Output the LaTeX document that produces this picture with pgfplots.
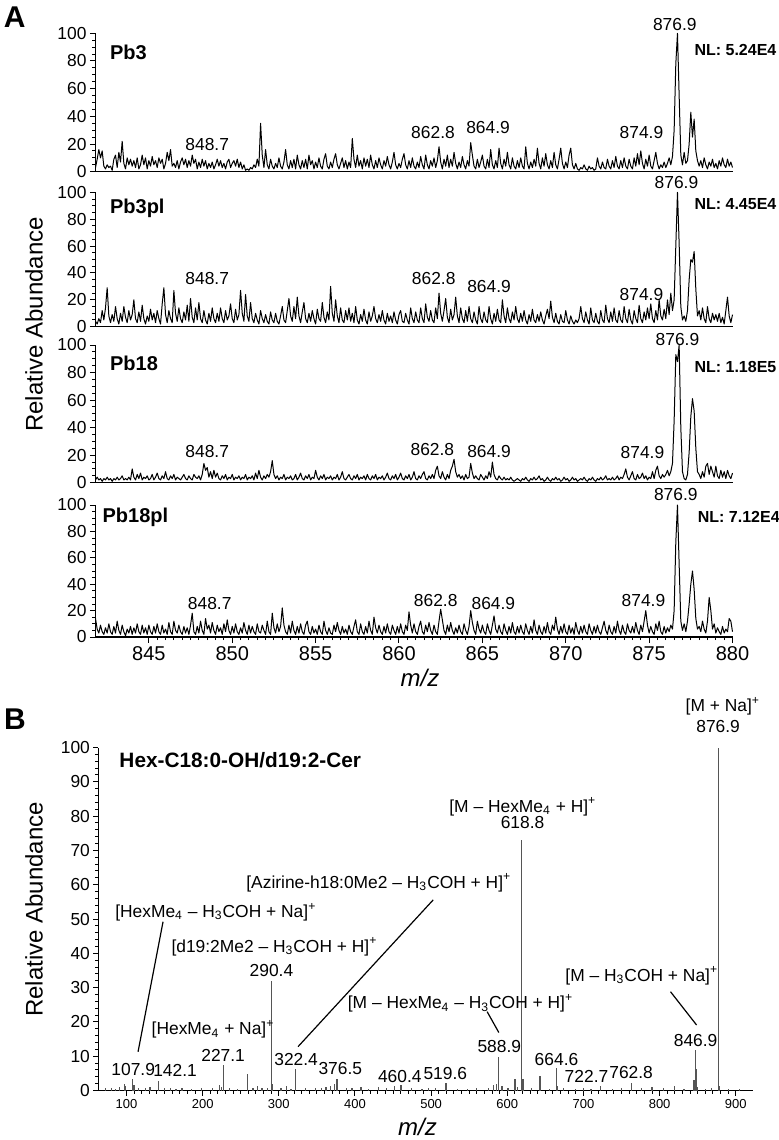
\documentclass[border=0pt]{standalone}
\usepackage{fontspec}
\setmainfont{Liberation Sans}
\usepackage{pgfplots}
\usepackage{pgfplotstable}
\pgfplotsset{compat=1.18}
\newcommand\fs[1]{\fontsize{#1}{#1}\selectfont}
\definecolor{stick}{RGB}{85,85,85}

\pgfplotstableread{
x a b c d
841.8 3 4 2 14
841.9 9 2 4 6
842.0 16 6 2 3
842.1 10 3 3 9
842.2 15 12 1 4
842.3 4 5 3 2
842.4 2 14 2 7
842.5 5 29 4 3
842.6 3 8 2 10
842.7 4 3 3 4
842.8 1 9 1 2
842.9 9 4 3 8
843.0 12 15 2 3
843.1 3 6 4 12
843.2 14 2 2 5
843.3 7 10 3 2
843.4 22 4 5 9
843.5 6 15 2 4
843.6 2 7 3 1
843.7 10 3 2 6
843.8 5 12 4 3
843.9 9 5 2 8
844.0 4 9 10 2
844.1 8 20 4 7
844.2 3 6 2 3
844.3 10 3 6 10
844.4 2 11 3 4
844.5 5 4 7 2
844.6 12 16 2 9
844.7 5 6 4 3
844.8 10 2 3 7
844.9 2 8 5 2
845.0 8 4 2 9
845.1 4 13 3 4
845.2 11 5 6 2
845.3 5 10 2 8
845.4 8 3 4 3
845.5 3 12 7 10
845.6 10 6 3 4
845.7 6 2 2 2
845.8 9 17 5 9
845.9 2 29 3 3
846.0 6 9 8 6
846.1 14 3 3 2
846.2 8 12 2 11
846.3 16 6 5 4
846.4 4 3 3 2
846.5 6 27 6 12
846.6 3 10 2 5
846.7 8 4 4 3
846.8 2 14 3 9
846.9 7 6 2 4
847.0 10 3 4 2
847.1 5 11 6 8
847.2 9 5 3 3
847.3 3 16 2 7
847.4 8 4 5 2
847.5 4 21 3 9
847.6 12 7 2 18
847.7 6 3 6 4
847.8 9 14 4 2
847.9 2 5 3 8
848.0 7 18 5 3
848.1 3 6 2 12
848.2 9 3 6 5
848.3 4 12 14 2
848.4 8 5 9 14
848.5 2 2 11 6
848.6 6 10 4 9
848.7 3 4 8 3
848.8 7 14 3 11
848.9 2 6 9 5
849.0 5 3 4 2
849.1 9 10 7 9
849.2 4 4 3 4
849.3 8 14 2 7
849.4 3 6 5 2
849.5 6 3 3 10
849.6 2 12 6 4
849.7 7 5 2 13
849.8 9 8 4 5
849.9 3 17 3 2
850.0 6 6 6 8
850.1 8 3 2 3
850.2 4 13 4 10
850.3 9 5 3 4
850.4 3 9 5 2
850.5 7 27 2 7
850.6 2 10 4 3
850.7 5 4 3 11
850.8 1 24 6 5
850.9 2 8 2 2
851.0 1 4 4 9
851.1 3 18 3 3
851.2 2 6 5 8
851.3 5 3 2 4
851.4 3 10 7 2
851.5 9 5 3 10
851.6 4 2 9 4
851.7 35 12 4 3
851.8 12 6 2 9
851.9 3 3 5 5
852.0 16 9 3 2
852.1 5 4 6 12
852.2 2 2 4 4
852.3 9 11 8 2
852.4 4 5 16 18
852.5 2 3 6 7
852.6 6 10 3 3
852.7 3 4 5 10
852.8 10 2 2 4
852.9 4 8 4 8
853.0 2 15 3 22
853.1 7 5 6 9
853.2 16 3 2 4
853.3 5 12 4 2
853.4 2 21 3 9
853.5 8 8 5 3
853.6 3 4 2 12
853.7 9 15 3 5
853.8 2 6 6 2
853.9 12 22 2 8
854.0 5 8 4 3
854.1 2 3 7 10
854.2 8 11 3 4
854.3 3 18 2 2
854.4 9 6 5 9
854.5 2 3 3 12
854.6 12 10 6 4
854.7 5 4 2 2
854.8 8 12 4 8
854.9 2 6 3 3
855.0 7 2 9 6
855.1 3 13 4 2
855.2 10 6 2 9
855.3 4 4 5 4
855.4 2 18 3 2
855.5 9 7 6 12
855.6 13 3 2 5
855.7 4 11 4 2
855.8 2 5 3 7
855.9 7 30 5 3
856.0 3 10 2 2
856.1 9 4 4 9
856.2 13 20 3 4
856.3 5 8 6 11
856.4 2 3 2 5
856.5 6 14 4 2
856.6 10 5 8 8
856.7 3 3 3 3
856.8 8 12 2 6
856.9 2 5 4 2
857.0 7 14 6 9
857.1 3 4 3 4
857.2 24 10 2 2
857.3 9 3 5 8
857.4 3 15 3 13
857.5 12 5 6 4
857.6 4 2 2 2
857.7 8 9 4 10
857.8 2 4 3 4
857.9 10 13 5 2
858.0 4 5 2 8
858.1 9 2 6 3
858.2 3 11 3 12
858.3 12 4 2 5
858.4 5 8 5 2
858.5 2 15 3 15
858.6 8 6 6 7
858.7 3 3 2 3
858.8 10 9 4 9
858.9 5 4 3 4
859.0 2 12 5 2
859.1 8 5 2 8
859.2 4 2 4 3
859.3 11 10 7 10
859.4 5 4 3 4
859.5 2 8 2 2
859.6 7 3 5 9
859.7 14 11 3 5
859.8 5 5 6 2
859.9 2 2 2 8
860.0 6 9 4 3
860.1 3 12 7 10
860.2 9 4 3 4
860.3 13 3 2 2
860.4 5 10 5 9
860.5 2 5 3 5
860.6 8 2 6 19
860.7 3 14 2 9
860.8 10 6 4 3
860.9 4 3 8 10
861.0 2 11 3 4
861.1 7 5 2 2
861.2 3 3 5 8
861.3 11 14 3 12
861.4 5 6 6 4
861.5 2 3 8 2
861.6 12 17 3 9
861.7 5 7 2 4
861.8 2 4 5 11
861.9 8 12 3 5
862.0 4 5 6 2
862.1 10 3 3 9
862.2 3 14 9 4
862.3 8 6 12 2
862.4 18 25 5 12
862.5 7 10 3 21
862.6 2 4 8 13
862.7 9 12 4 5
862.8 4 21 2 2
862.9 12 7 6 9
863.0 3 3 3 4
863.1 9 13 9 11
863.2 4 5 12 5
863.3 14 9 17 2
863.4 6 22 8 7
863.5 2 8 4 3
863.6 7 3 6 9
863.7 3 14 3 4
863.8 11 6 5 2
863.9 5 3 2 10
864.0 2 12 6 5
864.1 8 4 3 2
864.2 4 15 4 8
864.3 21 6 14 20
864.4 12 3 7 11
864.5 4 11 3 5
864.6 2 5 5 2
864.7 9 2 3 12
864.8 3 15 2 6
864.9 7 6 6 3
865.0 12 3 4 9
865.1 4 11 2 4
865.2 2 5 5 2
865.3 9 3 3 10
865.4 3 15 8 5
865.5 16 6 4 2
865.6 5 2 15 9
865.7 2 10 6 16
865.8 8 4 3 6
865.9 3 13 2 3
866.0 17 5 5 9
866.1 6 3 3 4
866.2 2 20 2 2
866.3 9 8 4 10
866.4 4 3 2 5
866.5 14 14 3 2
866.6 5 6 2 8
866.7 2 3 4 3
866.8 10 11 2 11
866.9 4 5 1 4
867.0 2 15 2 2
867.1 8 6 3 8
867.2 3 3 2 3
867.3 10 10 1 9
867.4 4 4 3 4
867.5 2 12 2 2
867.6 18 5 4 10
867.7 6 2 2 5
867.8 2 9 1 2
867.9 7 4 3 8
868.0 3 13 2 3
868.1 9 5 4 13
868.2 4 3 2 5
868.3 17 9 3 2
868.4 6 4 5 9
868.5 2 11 2 4
868.6 10 5 3 2
868.7 4 2 1 8
868.8 13 8 2 3
868.9 5 13 4 11
869.0 2 6 2 4
869.1 8 19 1 2
869.2 3 7 3 9
869.3 14 3 2 5
869.4 5 10 4 15
869.5 2 4 2 6
869.6 9 2 3 2
869.7 17 9 1 8
869.8 6 4 2 3
869.9 2 3 4 10
870.0 7 12 2 4
870.1 3 5 3 2
870.2 12 2 1 9
870.3 17 8 2 3
870.4 5 4 4 7
870.5 2 2 2 2
870.6 6 5 3 11
870.7 2 3 1 5
870.8 1 6 2 2
870.9 3 15 3 8
871.0 2 6 2 3
871.1 5 3 4 9
871.2 2 11 2 4
871.3 1 5 1 2
871.4 4 2 3 10
871.5 2 14 2 5
871.6 3 5 4 2
871.7 1 3 2 8
871.8 2 10 1 3
871.9 10 4 3 9
872.0 4 2 2 4
872.1 2 12 4 2
872.2 7 5 2 7
872.3 3 3 3 12
872.4 2 16 5 5
872.5 9 6 2 2
872.6 4 3 3 9
872.7 2 11 2 4
872.8 8 4 4 2
872.9 3 14 2 8
873.0 11 5 3 3
873.1 4 3 5 12
873.2 2 12 2 5
873.3 8 5 4 2
873.4 3 3 3 9
873.5 10 15 6 4
873.6 4 6 10 2
873.7 2 3 4 10
873.8 9 13 2 5
873.9 4 5 5 3
874.0 2 2 8 8
874.1 10 12 3 3
874.2 4 6 2 11
874.3 13 3 6 5
874.4 5 16 3 2
874.5 15 6 4 9
874.6 6 3 7 4
874.7 2 11 3 12
874.8 9 5 5 20
874.9 4 14 2 9
875.0 12 6 4 3
875.1 4 17 3 8
875.2 2 6 8 4
875.3 8 3 3 2
875.4 14 12 9 10
875.5 6 5 12 5
875.6 2 20 5 12
875.7 5 8 3 4
875.8 3 5 6 2
875.9 7 13 4 8
876.0 3 6 6 3
876.1 6 20 9 7
876.2 10 9 5 4
876.3 5 25 8 9
876.4 11 12 14 6
876.5 30 20 45 20
876.6 78 60 93 72
876.7 100 100 88 100
876.8 55 62 100 55
876.9 12 15 40 12
877.0 5 5 8 5
877.1 14 8 3 10
877.2 6 4 2 4
877.3 8 12 6 12
877.4 20 35 22 25
877.5 43 50 48 40
877.6 25 48 61 50
877.7 38 56 52 36
877.8 15 28 25 14
877.9 8 8 8 6
878.0 4 12 6 8
878.1 8 5 3 4
878.2 3 14 8 12
878.3 10 6 4 6
878.4 5 3 12 3
878.5 2 15 14 12
878.6 7 6 6 30
878.7 4 3 12 20
878.8 9 10 8 6
878.9 3 5 4 10
879.0 6 9 12 3
879.1 2 4 5 7
879.2 8 10 3 4
879.3 4 3 9 2
879.4 10 7 4 8
879.5 5 2 8 3
879.6 3 12 3 6
879.7 9 22 9 4
879.8 4 8 5 14
879.9 7 3 3 12
880.0 3 9 7 4
}\spec

\pgfplotstableread{
x y
72 0.6
80 0.8
86 0.5
91 1.0
97 2.0
99 1.2
107.9 3.4
110 1.5
116 0.8
125 0.6
131 1.0
142.1 2.8
150 0.6
158 0.8
165 0.5
173 0.7
185 0.5
198 0.6
213 0.8
222 1.5
225 1.0
227.1 7.5
235 0.6
246 0.5
259 4.8
266 0.8
272 1.2
278 0.6
285 0.8
290.4 32
292 2.0
303 0.6
310 1.2
316 0.5
322.4 6.3
335 0.6
348 0.8
356 0.6
362 1.0
368 1.2
373 2.0
376.5 3.3
389 0.8
396 0.6
408 1.0
418 0.5
431 1.0
441 0.6
452 1.2
460.4 1.5
474 0.6
488 0.5
497 0.8
506 0.6
519.6 2.2
535 0.5
548 0.5
560 0.6
575 0.8
582 1.5
586 2.0
588.9 9.8
593 1.2
601 0.8
610 3.4
613 1.0
618.8 73
620.5 3.5
632 0.6
643 4.2
655 0.5
664.6 6.5
666 1.2
674 0.6
690 0.5
700 0.6
710 0.5
722.7 1.4
738 0.5
750 0.6
762.8 2.2
776 0.6
790 1.0
805 0.6
820 1.2
832 0.5
845 3.0
846.9 11.8
848.5 6.2
850 1.0
860 0.5
868 0.6
876.9 100
879 1.2
890 0.5
905 0.3
}\sticks

\pgfplotsset{
  specbase/.style={
    scale only axis, anchor=south west, width=318.5pt,
    xmin=841.8, xmax=880, ymin=0, ymax=100,
    axis x line=bottom, axis y line=left,
    axis line style={-, line width=0.6pt},
    tick style={black, line width=0.5pt},
    tick align=outside,
    major tick length=2.8pt, minor tick length=1.6pt,
    ytick={0,20,40,60,80,100}, minor y tick num=3,
    xtick=\empty,
    /pgf/number format/assume math mode=true,
    /pgf/number format/1000 sep={},
    scaled ticks=false,
    yticklabel style={font=\fs{8.7}, inner sep=1.5pt},
    clip=false,
  },
  spec/.style={black, line width=0.5pt, no markers, line join=round},
}
\tikzset{
  pk/.style={font=\fs{8.7}, inner sep=0pt},
  nm/.style={font=\fs{10}\bfseries, anchor=west, inner sep=0pt},
  nl/.style={font=\fs{8}\bfseries, anchor=west, inner sep=0pt},
}

\begin{document}
\begin{tikzpicture}
\useasboundingbox (0,0) rectangle (389.5pt,-570pt);

\node[font=\fs{15}\bfseries, inner sep=0pt] at (7.35pt,-8.35pt) {A};
\node[font=\fs{15}\bfseries, inner sep=0pt] at (7.5pt,-359.5pt) {B};
\node[font=\fs{12}, rotate=90, inner sep=0pt] at (17pt,-162.25pt) {Relative Abundance};
\node[font=\fs{12}, rotate=90, inner sep=0pt] at (17pt,-454.75pt) {Relative Abundance};
\node[font=\fs{12}\itshape, inner sep=0pt] at (210pt,-339pt) {m/z};
\node[font=\fs{12}\itshape, inner sep=0pt] at (208.75pt,-563.5pt) {m/z};

% Panel 1
\begin{axis}[specbase, at={(47.75pt,-85.85pt)}, height=69.2pt]
\addplot[spec] table[x=x,y=a] {\spec};
\node[nm] at (axis cs:842.65,86) {Pb3};
\node[pk] at (axis cs:848.5,20) {848.7};
\node[pk] at (axis cs:862.04,28) {862.8};
\node[pk] at (axis cs:865.34,32) {864.9};
\node[pk] at (axis cs:874.54,28) {874.9};
\node[pk] at (axis cs:876.54,106) {876.9};
\node[nl] at (axis cs:877.7,88) {NL: 5.24E4};
\end{axis}

% Panel 2
\begin{axis}[specbase, at={(47.75pt,-163.35pt)}, height=67.2pt]
\addplot[spec] table[x=x,y=b] {\spec};
\node[nm] at (axis cs:842.65,88) {Pb3pl};
\node[pk] at (axis cs:848.5,36) {848.7};
\node[pk] at (axis cs:862.08,36) {862.8};
\node[pk] at (axis cs:865.4,30) {864.9};
\node[pk] at (axis cs:874.54,24) {874.9};
\node[pk] at (axis cs:876.64,107) {876.9};
\node[nl] at (axis cs:877.7,91) {NL: 4.45E4};
\end{axis}

% Panel 3
\begin{axis}[specbase, at={(47.75pt,-241.35pt)}, height=68.85pt]
\addplot[spec] table[x=x,y=c] {\spec};
\node[nm] at (axis cs:842.65,87) {Pb18};
\node[pk] at (axis cs:848.5,23) {848.7};
\node[pk] at (axis cs:862.0,24) {862.8};
\node[pk] at (axis cs:865.4,23) {864.9};
\node[pk] at (axis cs:874.6,22) {874.9};
\node[pk] at (axis cs:876.7,104) {876.9};
\node[nl] at (axis cs:877.7,84) {NL: 1.18E5};
\end{axis}

% Panel 4
\begin{axis}[specbase, at={(47.75pt,-318.5pt)}, height=66pt,
  xtick={845,850,...,880}, minor x tick num=9,
  xticklabel style={font=\fs{10}, inner sep=2pt}]
\addplot[spec] table[x=x,y=d] {\spec};
\node[nm] at (axis cs:842.2,91) {Pb18pl};
\node[pk] at (axis cs:848.65,25.5) {848.7};
\node[pk] at (axis cs:862.2,27.5) {862.8};
\node[pk] at (axis cs:865.66,25.5) {864.9};
\node[pk] at (axis cs:874.66,27.5) {874.9};
\node[pk] at (axis cs:876.6,107.6) {876.9};
\node[nl] at (axis cs:877.9,91) {NL: 7.12E4};
\end{axis}

% Panel B
\begin{axis}[scale only axis, anchor=south west, at={(49.15pt,-545.25pt)},
  width=327.5pt, height=171.5pt,
  xmin=63, xmax=923, ymin=0, ymax=100,
  axis x line=bottom, axis y line=left,
  axis line style={-, line width=0.6pt},
  tick style={black, line width=0.5pt},
  tick align=outside,
  major tick length=2.5pt, minor tick length=1.5pt,
  xtick={100,200,...,900}, minor x tick num=9,
  ytick={0,10,...,100}, minor y tick num=4,
  /pgf/number format/assume math mode=true,
  /pgf/number format/1000 sep={},
  scaled ticks=false,
  xticklabel style={font=\fs{6.5}, inner sep=2pt},
  yticklabel style={font=\fs{8.7}, inner sep=1.5pt},
  clip=false]
\addplot[ycomb, color=stick, line width=0.6pt, no markers] table[x=x,y=y] {\sticks};
\node[font=\fs{10.4}\bfseries, anchor=west, inner sep=0pt] at (axis cs:90.3,96.4) {Hex-C18:0-OH/d19:2-Cer};
\node[pk] at (axis cs:883,112) {[M + Na]\textsuperscript{+}};
\node[pk] at (axis cs:876.8,106) {876.9};
\node[pk] at (axis cs:620.4,82.7) {[M – HexMe\textsubscript{4} + H]\textsuperscript{+}};
\node[pk] at (axis cs:620,78) {618.8};
\node[pk] at (axis cs:431.3,60.5) {[Azirine-h18:0Me2 – H\textsubscript{3}COH + H]\textsuperscript{+}};
\draw[line width=0.6pt] (axis cs:502.8,55.6) -- (axis cs:325.3,12.8);
\node[pk] at (axis cs:217.3,52) {[HexMe\textsubscript{4} – H\textsubscript{3}COH + Na]\textsuperscript{+}};
\draw[line width=0.6pt] (axis cs:148,49.2) -- (axis cs:115.2,11.3);
\node[pk] at (axis cs:294.3,41.9) {[d19:2Me2 – H\textsubscript{3}COH + H]\textsuperscript{+}};
\node[pk] at (axis cs:290.4,34.9) {290.4};
\node[pk] at (axis cs:213.7,17.8) {[HexMe\textsubscript{4} + Na]\textsuperscript{+}};
\node[pk] at (axis cs:226.9,10.3) {227.1};
\node[pk] at (axis cs:322.7,9.1) {322.4};
\node[pk] at (axis cs:380.7,6.3) {376.5};
\node[pk] at (axis cs:108.8,6.0) {107.9};
\node[pk] at (axis cs:163.8,6.0) {142.1};
\node[pk] at (axis cs:458.9,4.0) {460.4};
\node[pk] at (axis cs:518.6,5.0) {519.6};
\node[pk] at (axis cs:538.6,25.4) {[M – HexMe\textsubscript{4} – H\textsubscript{3}COH + H]\textsuperscript{+}};
\draw[line width=0.6pt] (axis cs:573.5,23) -- (axis cs:588.9,16.9);
\node[pk] at (axis cs:589.5,12.8) {588.9};
\node[pk] at (axis cs:664.6,9.1) {664.6};
\node[pk] at (axis cs:704,4.0) {722.7};
\node[pk] at (axis cs:762.6,5.2) {762.8};
\node[pk] at (axis cs:776.6,33.4) {[M – H\textsubscript{3}COH + Na]\textsuperscript{+}};
\draw[line width=0.6pt] (axis cs:814.3,28.8) -- (axis cs:848.5,19.1);
\node[pk] at (axis cs:847.3,14.5) {846.9};
\end{axis}
\end{tikzpicture}
\end{document}
